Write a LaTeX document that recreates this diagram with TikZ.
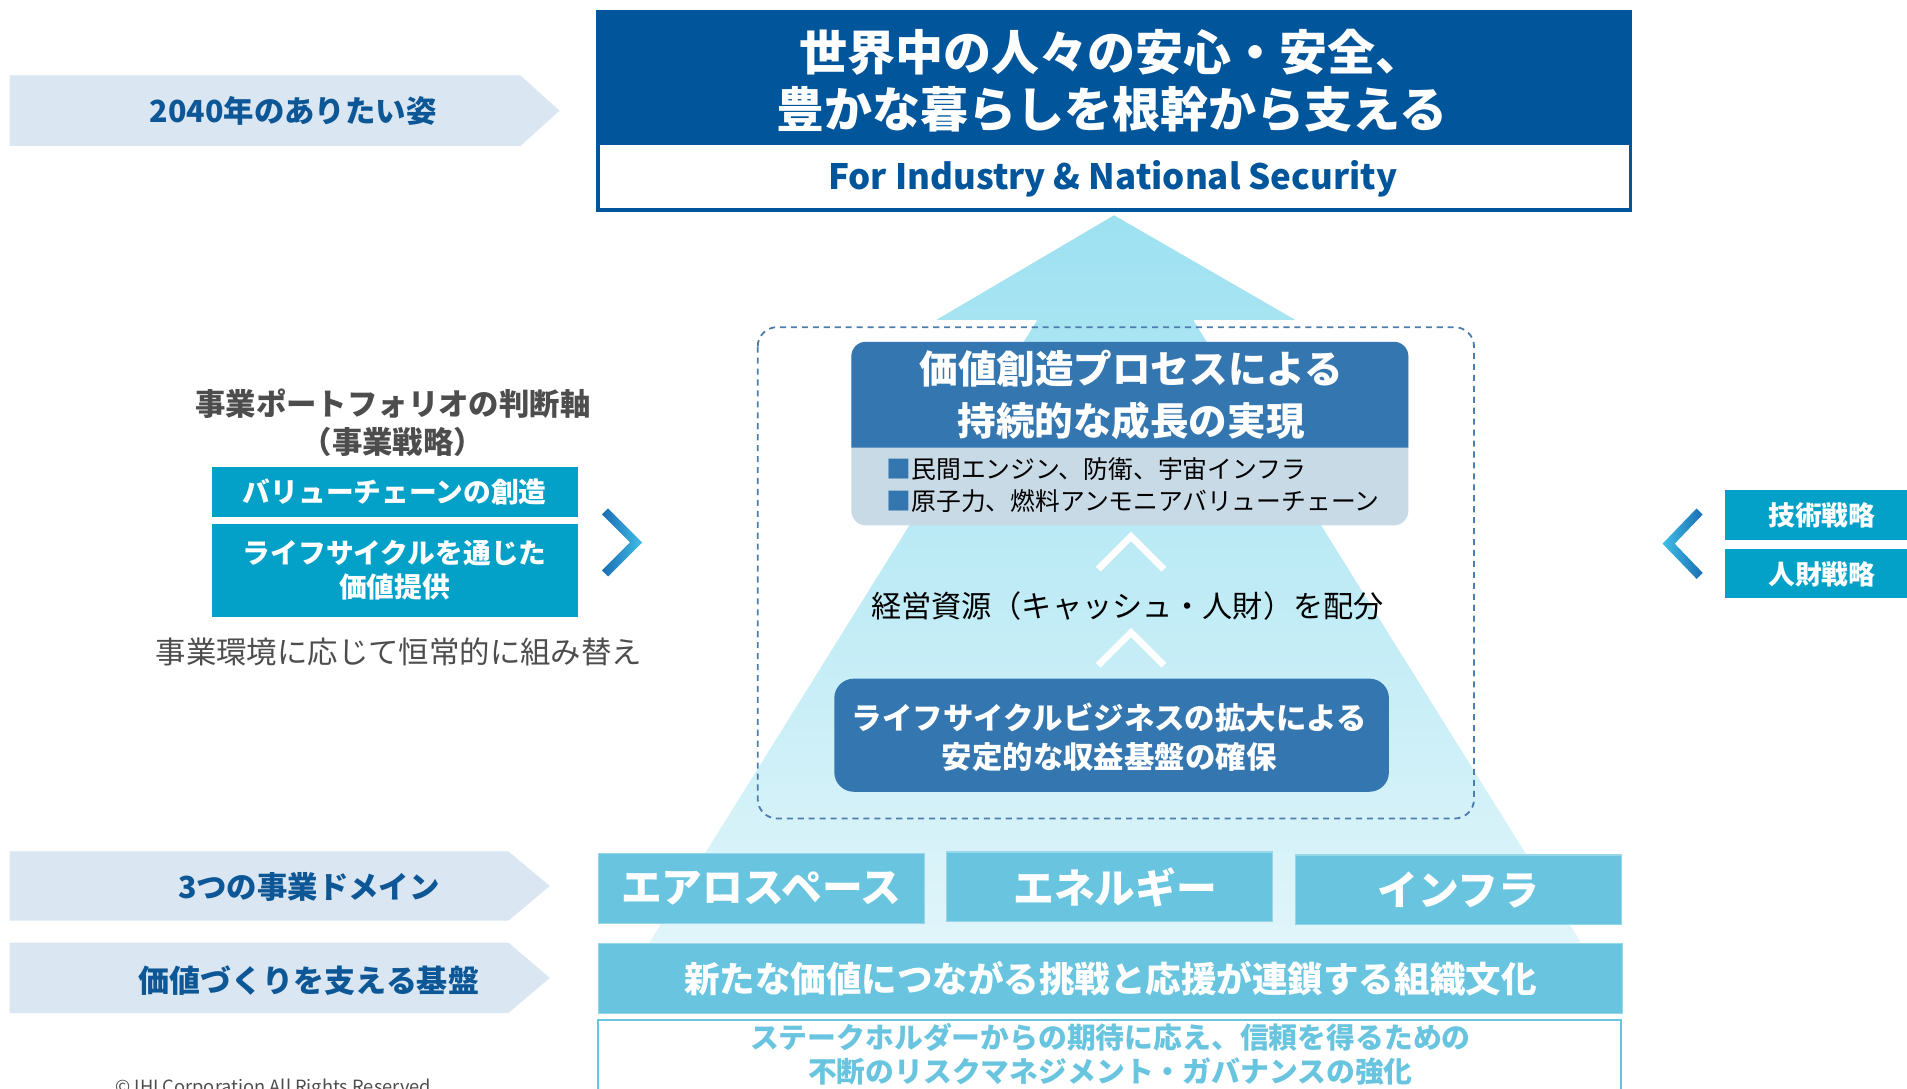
\documentclass[tikz,border=0pt]{standalone}
\usepackage{fontspec}
\setmainfont{Noto Sans CJK JP}
\definecolor{navy}{HTML}{00559B}
\definecolor{labelblue}{HTML}{0D5797}
\definecolor{bandc}{HTML}{DAE6F1}
\definecolor{teal}{HTML}{03A1C7}
\definecolor{midblue}{HTML}{3476B0}
\definecolor{lightgb}{HTML}{C9DAE7}
\definecolor{domc}{HTML}{69C5DF}
\definecolor{pyrtop}{HTML}{9DE1F1}
\definecolor{pyrbot}{HTML}{E0F5FA}
\definecolor{dashc}{HTML}{4D7DAE}
\definecolor{graytxt}{HTML}{4D4D4D}
\definecolor{chevdark}{HTML}{1A6DB4}
\definecolor{chevlight}{HTML}{40BEE6}
\tikzset{
  bandtext/.style={text=labelblue, font=\fontsize{25}{28}\selectfont\bfseries},
  tealbox/.style={fill=teal, text=white, minimum width=301, align=center},
  dombox/.style={fill=domc, draw=domc!70!white, line width=1pt, text=white, minimum width=268, minimum height=57, font=\fontsize{33.5}{38}\selectfont\bfseries},
  upchev/.style={draw=white, line width=5.5pt, line cap=butt, line join=miter},
}
\begin{document}
\begin{tikzpicture}[x=1pt,y=-1pt, every node/.style={inner sep=0pt, outer sep=0pt}]
\useasboundingbox (0,0) rectangle (1568,895);

% ---------- pyramid arrow ----------
\shade[top color=pyrtop, bottom color=pyrbot]
  (916,177) -- (1065,263) -- (981,263) -- (1300,775) -- (534,775) -- (853,263) -- (770,263) -- cycle;

% ---------- left bands ----------
\fill[bandc] (8,62) -- (428,62) -- (460,91) -- (428,120) -- (8,120) -- cycle;
\node[bandtext] (vision) at (241,91) {2040年のありたい姿};
\fill[bandc] (8,700) -- (418,700) -- (452,728.5) -- (418,757) -- (8,757) -- cycle;
\node[bandtext] (domainlbl) at (254,729) {3つの事業ドメイン};
\fill[bandc] (8,775) -- (418,775) -- (452,804) -- (418,833) -- (8,833) -- cycle;
\node[bandtext, font=\fontsize{25.5}{28}\selectfont\bfseries] (baselbl) at (254,806) {価値づくりを支える基盤};

% ---------- top box ----------
\node[fill=navy, minimum width=852, minimum height=111] (titlebox) at (916,63.5) {};
\draw[navy, line width=3pt] (491.5,9.5) rectangle (1340.5,172.5);
\node[text=white, align=center, font=\fontsize{39.5}{47}\selectfont\bfseries] (title) at (914,66.5)
  {世界中の人々の安心・安全、\\豊かな暮らしを根幹から支える};
\node[text=navy, font=\fontsize{28.7}{32}\selectfont\bfseries] (sub) at (915,147) {For Industry \& National Security};

% ---------- dashed frame ----------
\draw[dashc, line width=1.5pt, dash pattern=on 5pt off 4pt, rounded corners=16pt] (623,269) rectangle (1212,673);

% ---------- upper inner box ----------
\fill[lightgb, rounded corners=12pt] (700,281) rectangle (1158,432);
\fill[midblue] (700,368) {[rounded corners=12pt] -- (700,281) -- (1158,281)} -- (1158,368) -- cycle;
\node[text=white, align=center, font=\fontsize{31.7}{43}\selectfont\bfseries] (growth) at (930,324.5)
  {価値創造プロセスによる\\持続的な成長の実現};
\node[anchor=west, align=left, text=black, font=\fontsize{20.4}{26}\selectfont] (bullets) at (729,399)
  {{\color{midblue}■}民間エンジン、防衛、宇宙インフラ\\{\color{midblue}■}原子力、燃料アンモニアバリューチェーン};

% ---------- up chevrons ----------
\draw[upchev] (903,468) -- (930,441) -- (957,468);
\draw[upchev] (903,547) -- (930,520) -- (957,547);
\node[text=black, font=\fontsize{24.8}{28}\selectfont] (alloc) at (927,498) {経営資源（キャッシュ・人財）を配分};

% ---------- lower inner box ----------
\node[fill=midblue, rounded corners=16pt, minimum width=456, minimum height=93] (lifebox) at (914,604.5) {};
\node[text=white, align=center, font=\fontsize{25}{32}\selectfont\bfseries] (lifetext) at (912,606)
  {ライフサイクルビジネスの拡大による\\安定的な収益基盤の確保};

% ---------- left portfolio block ----------
\node[text=graytxt, align=center, font=\fontsize{25}{31}\selectfont\bfseries] (portfolio) at (323,347.5)
  {事業ポートフォリオの判断軸\\（事業戦略）};
\node[tealbox, minimum height=41, font=\fontsize{22.8}{28}\selectfont\bfseries] (vc) at (324.5,404.5) {バリューチェーンの創造};
\node[tealbox, minimum height=76, font=\fontsize{22.8}{28}\selectfont\bfseries] (lc) at (324.5,469) {ライフサイクルを通じた\\価値提供};
\node[text=graytxt, font=\fontsize{25}{28}\selectfont] (env) at (328,536) {事業環境に応じて恒常的に組み替え};
\shade[left color=chevdark, right color=chevlight]
  (500,418) -- (528,446) -- (500,474) -- (495,469) -- (518,446) -- (495,423) -- cycle;

% ---------- right strategy block ----------
\shade[left color=chevlight, right color=chevdark]
  (1395,418) -- (1367,447) -- (1395,476) -- (1400,471) -- (1377,447) -- (1400,423) -- cycle;
\node[tealbox, minimum width=150, minimum height=41] (tech) at (1493,423.5) {};
\node[text=white, font=\fontsize{22}{26}\selectfont\bfseries] (techtxt) at (1498,424) {技術戦略};
\node[tealbox, minimum width=150, minimum height=41] (hr) at (1493,471.5) {};
\node[text=white, font=\fontsize{22}{26}\selectfont\bfseries] (hrtxt) at (1498,472) {人財戦略};

% ---------- domains ----------
\node[dombox] (aero) at (626,730.5) {エアロスペース};
\node[dombox, minimum width=0pt] (energybox) at (912,729) {\rule{0pt}{57pt}\rule{268pt}{0pt}};
\node[text=white, font=\fontsize{33.5}{38}\selectfont\bfseries] (energy) at (917,730) {エネルギー};
\node[dombox] (infra) at (1199,731.5) {インフラ};

% ---------- base ----------
\node[fill=domc, draw=domc!70!white, line width=1pt, minimum width=842, minimum height=57, text=white,
      font=\fontsize{29.2}{32}\selectfont\bfseries] (culture) at (913,804.5) {新たな価値につながる挑戦と応援が連鎖する組織文化};
\draw[domc, line width=1.5pt] (491.5,905) -- (491.5,838.5) -- (1332.5,838.5) -- (1332.5,905);
\node[text=domc, align=center, font=\fontsize{23.7}{28}\selectfont\bfseries] (risk) at (913,867)
  {ステークホルダーからの期待に応え、信頼を得るための\\不断のリスクマネジメント・ガバナンスの強化};

\node[anchor=north west, text=graytxt, font=\fontsize{15}{18}\selectfont] (copy) at (95,887) {© IHI Corporation All Rights Reserved.};
\end{tikzpicture}
\end{document}
